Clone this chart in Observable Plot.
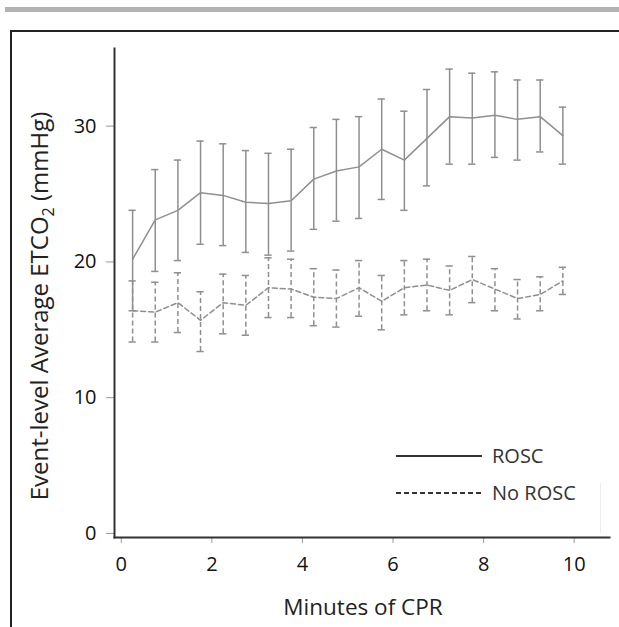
<!DOCTYPE html>
<html>
<head>
<meta charset="utf-8">
<script src="https://cdn.jsdelivr.net/npm/d3@7"></script>
<script src="https://cdn.jsdelivr.net/npm/@observablehq/plot@0.6"></script>
<style>
  html, body { margin: 0; padding: 0; background: #fff; }
  body { width: 619px; height: 627px; position: relative; overflow: hidden; font-family: "Open Sans", sans-serif; }
  #topbar { position: absolute; left: 5px; right: 0; top: 7px; height: 5px; background: #b3b3b3; }
  #box { position: absolute; left: 10px; top: 30px; width: 640px; height: 640px; border-top: 2.5px solid #222; border-left: 2.5px solid #222; }
  #chart { position: absolute; left: 0; top: 0; }
  #faint { position: absolute; left: 600px; top: 483px; width: 1px; height: 50px; background: #ececec; }
  #legend { position: absolute; left: 396px; top: 440px; }
</style>
</head>
<body>
<div id="topbar"></div>
<div id="box"></div>
<div id="faint"></div>
<div id="chart"></div>
<div id="legend"></div>
<script>
const minutes = [0.25, 0.75, 1.25, 1.75, 2.25, 2.75, 3.25, 3.75, 4.25, 4.75, 5.25, 5.75, 6.25, 6.75, 7.25, 7.75, 8.25, 8.75, 9.25, 9.75];
const roscMean  = [20.2, 23.1, 23.8, 25.1, 24.9, 24.4, 24.3, 24.5, 26.1, 26.7, 27.0, 28.3, 27.5, 29.1, 30.7, 30.6, 30.8, 30.5, 30.7, 29.3];
const roscUpper = [23.8, 26.8, 27.5, 28.9, 28.7, 28.2, 28.0, 28.3, 29.9, 30.5, 30.7, 32.0, 31.1, 32.7, 34.2, 33.9, 34.0, 33.4, 33.4, 31.4];
const roscLower = [16.4, 19.3, 20.1, 21.3, 21.2, 20.7, 20.5, 20.8, 22.4, 23.0, 23.2, 24.6, 23.8, 25.6, 27.2, 27.2, 27.7, 27.5, 28.1, 27.2];
const noMean  = [16.4, 16.3, 17.0, 15.7, 17.0, 16.8, 18.1, 18.0, 17.4, 17.3, 18.1, 17.1, 18.1, 18.3, 17.9, 18.7, 18.0, 17.3, 17.6, 18.6];
const noUpper = [18.6, 18.5, 19.2, 17.8, 19.1, 19.0, 20.3, 20.2, 19.5, 19.4, 20.1, 19.0, 20.1, 20.2, 19.7, 20.4, 19.5, 18.7, 18.9, 19.6];
const noLower = [14.1, 14.1, 14.8, 13.4, 14.7, 14.6, 15.9, 15.9, 15.3, 15.2, 16.0, 15.0, 16.1, 16.4, 16.1, 17.0, 16.4, 15.8, 16.4, 17.6];
const xTicks = [0, 2, 4, 6, 8, 10];
const yTicks = [0, 10, 20, 30];
const seriesNames = ["ROSC", "No ROSC"];
const xLabel = "Minutes of CPR";

const rosc = minutes.map((t, i) => ({t, mean: roscMean[i], lo: roscLower[i], hi: roscUpper[i]}));
const noRosc = minutes.map((t, i) => ({t, mean: noMean[i], lo: noLower[i], hi: noUpper[i]}));

const cap = 0.08;
const gray = "#8f8f8f";
const dash = "5,3";

function seriesMarks(data, dashed) {
  const o = {stroke: gray, strokeWidth: 1.5, strokeDasharray: dashed ? dash : null};
  return [
    Plot.ruleX(data, {x: "t", y1: "lo", y2: "hi", ...o}),
    Plot.ruleY(data, {y: "hi", x1: d => d.t - cap, x2: d => d.t + cap, stroke: gray, strokeWidth: 1.5}),
    Plot.ruleY(data, {y: "lo", x1: d => d.t - cap, x2: d => d.t + cap, stroke: gray, strokeWidth: 1.5}),
    Plot.line(data, {x: "t", y: "mean", ...o})
  ];
}

const chart = Plot.plot({
  width: 619,
  height: 627,
  marginLeft: 114,
  marginRight: 10,
  marginTop: 48,
  marginBottom: 90,
  style: {fontFamily: "'Open Sans', sans-serif", fontSize: "20px", background: "transparent", overflow: "visible"},
  x: {domain: [-0.15, 10.78]},
  y: {domain: [-0.3, 35.72]},
  marks: [
    Plot.axisY({ticks: yTicks, tickSize: 8, tickPadding: 10, stroke: "#999", fill: "#111", label: null, fontSize: 20}),
    Plot.axisX({ticks: xTicks, tickSize: 6, tickPadding: 13, stroke: "#999", fill: "#111", label: null, fontSize: 20}),
    ...seriesMarks(noRosc, true),
    ...seriesMarks(rosc, false),
    Plot.frame({anchor: "left", stroke: "#333", strokeWidth: 2}),
    Plot.frame({anchor: "bottom", stroke: "#333", strokeWidth: 2})
  ]
});

const svg = d3.select(chart);
const yl = svg.append("text")
  .attr("transform", "translate(47.5,306) rotate(-90)")
  .attr("text-anchor", "middle")
  .attr("fill", "#222")
  .style("font-family", "'Open Sans', sans-serif")
  .style("font-size", "24px");
yl.append("tspan").text("Event-level Average ETCO");
yl.append("tspan").attr("dy", 6).style("font-size", "16px").text("2");
yl.append("tspan").attr("dy", -6).text(" (mmHg)");

svg.append("text")
  .attr("x", 363).attr("y", 615)
  .attr("text-anchor", "middle")
  .attr("fill", "#222")
  .style("font-family", "'Open Sans', sans-serif")
  .style("font-size", "22.5px")
  .text(xLabel);

document.getElementById("chart").appendChild(chart);

// legend
const lg = d3.select("#legend").append("svg").attr("width", 200).attr("height", 70)
  .style("font-family", "'Open Sans', sans-serif").style("font-size", "20px");
seriesNames.forEach((name, i) => {
  const y = 16 + i * 37;
  lg.append("line").attr("x1", 0).attr("x2", 86).attr("y1", y).attr("y2", y)
    .attr("stroke", "#333").attr("stroke-width", 2)
    .attr("stroke-dasharray", i === 1 ? "5,3" : null);
  lg.append("text").attr("x", 96).attr("y", y + 7).attr("fill", "#333").text(name);
});
</script>
</body>
</html>
